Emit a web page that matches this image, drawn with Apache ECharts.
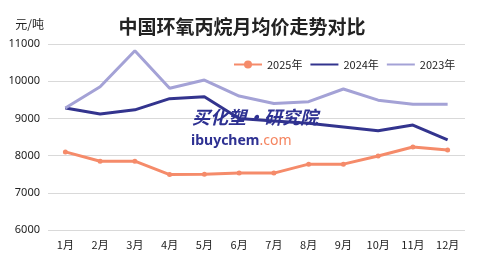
<!DOCTYPE html>
<html><head><meta charset="utf-8">
<script src="https://cdn.jsdelivr.net/npm/echarts@6/dist/echarts.min.js"></script>
<style>html,body{margin:0;padding:0;background:#fff}#c{width:484px;height:259px}</style>
</head><body><div id="c"></div>
<script>
const months = ['1月','2月','3月','4月','5月','6月','7月','8月','9月','10月','11月','12月'];
const s2025 = [8100,7850,7850,7490,7500,7530,7530,7770,7770,7990,8230,8150];
const s2024 = [9280,9120,9230,9530,9580,9000,8930,8870,8770,8670,8820,8420];
const s2023 = [9280,9850,10820,9810,10030,9600,9400,9450,9790,9490,9380,9380];
const yTicks = {min:6000,max:11000,interval:1000};

const chart = echarts.init(document.getElementById('c'));
chart.setOption({
  animation:false,
  title:{text:'中国环氧丙烷月均价走势对比',left:'center',top:12,
    textStyle:{fontFamily:'Noto Sans CJK SC',fontSize:19,fontWeight:'bold',color:'#222'}},
  legend:{top:54,left:228,width:260,itemWidth:28,itemHeight:10,itemGap:7,
    textStyle:{fontFamily:'Noto Sans CJK SC',fontSize:11,color:'#222'},
    data:['2025年',{name:'2024年',itemStyle:{opacity:0}},{name:'2023年',itemStyle:{opacity:0}}]},
  grid:{left:48,right:19,top:44,bottom:29},
  xAxis:{type:'category',data:months,boundaryGap:true,
    axisLine:{show:false},axisTick:{show:false},
    axisLabel:{fontFamily:'Noto Sans CJK SC',fontSize:11,color:'#222',margin:9}},
  yAxis:{type:'value',min:yTicks.min,max:yTicks.max,interval:yTicks.interval,
    name:'元/吨',nameLocation:'end',nameGap:14,
    nameTextStyle:{fontFamily:'Noto Sans CJK SC',fontSize:12,color:'#222',align:'right',padding:[0,4,0,0]},
    axisLine:{show:false},axisTick:{show:false},
    axisLabel:{fontFamily:'Noto Sans',fontSize:11,color:'#222',margin:8,formatter:v=>String(v)},
    splitLine:{lineStyle:{color:'#d9d9d9',width:1}}},
  graphic:[
    {type:'text',left:192,top:108,z:10,style:{text:'买化塑·研究院',fontFamily:'Noto Sans CJK SC',fontSize:18,fontWeight:'bold',fontStyle:'italic',fill:'#2e3192'}},
    {type:'text',left:191,top:134,z:10,style:{rich:{a:{fontFamily:'Noto Sans',fontSize:14,fill:'#2e3192',fontWeight:'bold'},b:{fontFamily:'Noto Sans',fontSize:14,fill:'#f5845f'}},text:'{a|ibuychem}{b|.com}'}}
  ],
  series:[
    {name:'2025年',type:'line',data:s2025,symbol:'circle',symbolSize:5,
      lineStyle:{color:'#f58b6a',width:3},itemStyle:{color:'#f58b6a'}},
    {name:'2024年',type:'line',data:s2024,symbol:'none',showSymbol:false,
      lineStyle:{color:'#33348e',width:3},itemStyle:{color:'#33348e'}},
    {name:'2023年',type:'line',data:s2023,symbol:'none',showSymbol:false,
      lineStyle:{color:'#a4a2d6',width:3},itemStyle:{color:'#a4a2d6'}}
  ]
});
</script></body></html>
